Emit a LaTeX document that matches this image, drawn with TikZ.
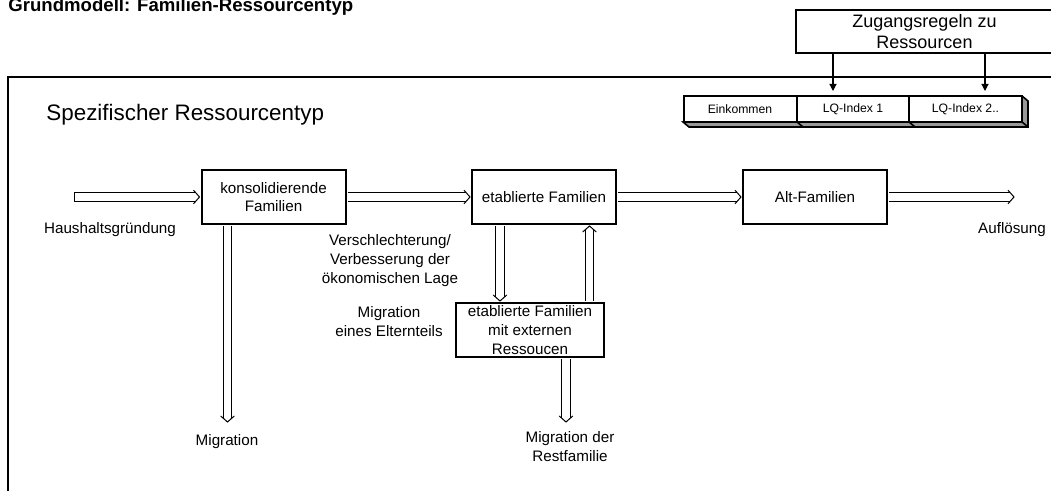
\documentclass[tikz,border=0pt]{standalone}
\usepackage{fontspec}
\setmainfont{Liberation Sans}
\usetikzlibrary{arrows.meta,decorations.markings}

\newcommand\flowpfeil[2]{\draw[flow] (#1) -- (#2); \path[spitze] (#1) -- (#2);}

\begin{document}
\begin{tikzpicture}[x=0.5pt,y=-0.5pt,
	box/.style={draw,line width=1pt,minimum width=72pt,minimum height=27pt,inner sep=0pt,align=center,font=\fontsize{7.6}{9.3}\selectfont},
	lbl/.style={align=center,font=\fontsize{7.6}{9.3}\selectfont},
	flow/.style={double,double distance=3.6pt,line width=0.5pt,shorten <=0.5pt,shorten >=2.3pt},
	spitze/.style={decorate,decoration={markings,mark=at position -0.5pt with {\draw[line width=0.5pt] (-3pt,3.4pt) -- (0,0) -- (-3pt,-3.4pt);}}},
	cell/.style={draw,fill=white,line width=1pt,minimum width=56.5pt,minimum height=13pt,inner sep=0pt,font=\fontsize{6.1}{7}\selectfont},
	pfeil/.style={line width=0.6pt,-{Triangle[length=3.5pt,width=3.5pt]}}]
				   
	\useasboundingbox (0,0) rectangle (1051,491);
	
	\node[anchor=base west,inner sep=0pt,font=\fontsize{9.3}{10}\selectfont\bfseries] (titel) at (8,12) {Grundmodell: Familien-Ressourcentyp};
	%
	\draw[line width=0.8pt] (1051,77) -- (8,77) -- (8,491);
	\node[anchor=west,inner sep=0pt,font=\fontsize{11.2}{13}\selectfont] (typ) at (46,115) {Spezifischer Ressourcentyp};
	%
	\node[draw,line width=0.8pt,minimum width=128.5pt,minimum height=21.5pt,inner sep=0pt,align=center,font=\fontsize{9}{10.5}\selectfont] (zug) at (924.5,31.5) {Zugangsregeln zu\\Ressourcen};
	%
	\filldraw[fill=black!40,line width=0.8pt] (683,122) -- (689,127) -- (1028,127) -- (1028,101) -- (1022,96) -- cycle;
	\draw[line width=0.8pt] (797,122) -- (803,127) (909,122) -- (915,127) (1022,122) -- (1028,127);
	\node[cell] (ein) at (740,109) {Einkommen};
	\node[cell] (lq1) at (853,109) {LQ-Index 1};
	\node[cell] (lq2) at (965.5,109) {LQ-Index 2..};
	%
	\coordinate (za) at (833,91);
	\coordinate (zb) at (985,91);
	\draw[pfeil] (zug.south -| za) -- (za);
	\draw[pfeil] (zug.south -| zb) -- (zb);
	%
	\node[box] (kons) at (273.5,197) {konsolidierende\\Familien};
	\node[box] (etab) at (544,197) {etablierte Familien};
	\node[box] (alt) at (815,197) {Alt-Familien};
	\node[box,minimum width=74pt] (ext) at (530,330) {etablierte Familien\\mit externen\\Ressoucen};
	%
	\node[lbl] (haus) at (110,230) {Haushaltsgründung};
	\node[lbl] (aufl) at (1012,230) {Auflösung};
	\node[lbl] (lage) at (390,260.5) {Verschlechterung/\\Verbesserung der\\ökonomischen Lage};
	\node[lbl] (eltern) at (389,321.5) {Migration\\eines Elternteils};
	\node[lbl] (mig) at (227,442) {Migration};
	\node[lbl] (rest) at (570,446.5) {Migration der\\Restfamilie};
	%
	\coordinate (start) at (74,197);
	\coordinate (ende) at (1015,197);
	\flowpfeil{start}{kons}
	\draw[line width=0.5pt] (74,192.4) -- (74,201.6);
	\flowpfeil{kons}{etab}
	\flowpfeil{etab}{alt}
	\flowpfeil{alt}{ende}
	%
	\coordinate (m1) at (227.5,423);
	\flowpfeil{kons.south -| m1}{m1}
	\coordinate (d1) at ([xshift=-22pt]etab.south);
	\coordinate (d2) at ([xshift=22.75pt]etab.south);
	\flowpfeil{d1}{d1 |- ext.north}
	\flowpfeil{d2 |- ext.north}{d2}
	\coordinate (m2) at (566,423);
	\flowpfeil{ext.south -| m2}{m2}
	
\end{tikzpicture}
\end{document}
